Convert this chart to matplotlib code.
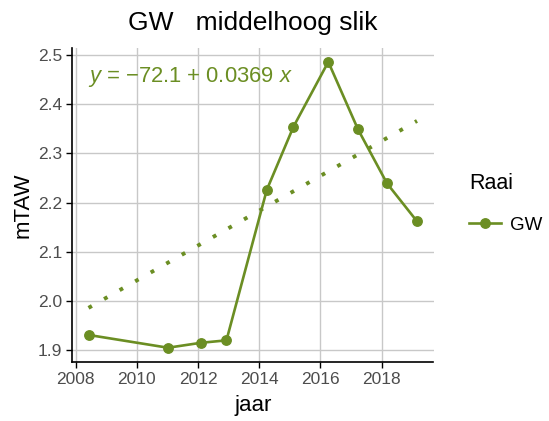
import matplotlib
matplotlib.use("Agg")
import matplotlib.pyplot as plt
from matplotlib.lines import Line2D

# ---- data ----
years = [2008.42, 2011.02, 2012.09, 2012.93, 2014.25, 2015.12, 2016.26, 2017.23, 2018.18, 2019.16]
mtaw = [1.931, 1.905, 1.915, 1.920, 2.226, 2.354, 2.486, 2.349, 2.239, 2.162]
trend_x = [2008.42, 2019.16]
trend_y = [1.986, 2.366]
x_ticks = [2008, 2010, 2012, 2014, 2016, 2018]
y_ticks = [1.9, 2.0, 2.1, 2.2, 2.3, 2.4, 2.5]
series_name = "GW"
title = "GW   middelhoog slik"
equation = r"$y$ = $-$72.1 + 0.0369 $x$"

color = "#6b8e23"
plt.rcParams['font.family'] = ['Liberation Sans', 'DejaVu Sans']
plt.rcParams['mathtext.fontset'] = 'custom'
plt.rcParams['mathtext.it'] = 'Liberation Sans:italic'
plt.rcParams['mathtext.rm'] = 'Liberation Sans'

W, H = 549, 421
fig = plt.figure(figsize=(W/100, H/100), dpi=100)
ax = fig.add_axes([72/W, (H-362)/H, (433.5-72)/W, (362-47.6)/H])

ax.plot(trend_x, trend_y, color=color, lw=2.8, linestyle=(0, (1, 3.6)), zorder=3)
ax.plot(years, mtaw, color=color, lw=1.9, marker='o', ms=6.8, zorder=4)

ax.set_xlim(2007.88, 2019.70)
ax.set_ylim(1.876, 2.515)
ax.set_xticks(x_ticks)
ax.set_yticks(y_ticks)
ax.set_yticklabels([f"{v:.1f}" for v in y_ticks])
ax.grid(True, color='#c8c8c8', lw=1.0)
ax.set_axisbelow(True)
for s in ['top', 'right']:
    ax.spines[s].set_visible(False)
for s in ['left', 'bottom']:
    ax.spines[s].set_color('black')
    ax.spines[s].set_linewidth(1.2)
ax.tick_params(axis='both', colors='black', labelcolor='#4d4d4d', labelsize=12.5,
               length=4, width=1.0, pad=3)

ax.set_xlabel("jaar", fontsize=16, labelpad=6)
ax.set_ylabel("mTAW", fontsize=16, labelpad=3)
ax.set_title(title, fontsize=19, pad=13)

ax.text(0.045, 0.905, equation, transform=ax.transAxes, color=color, fontsize=15.8,
        ha='left', va='center')

handle = Line2D([], [], color=color, lw=1.9, marker='o', ms=6.8)
leg = fig.legend([handle], [series_name], title="Raai", loc='upper left',
                 bbox_to_anchor=(452/W, 1-156/H), frameon=False, fontsize=13.5,
                 title_fontsize=15.5, handlelength=1.7, handletextpad=0.5,
                 labelspacing=1.2, alignment='left')

fig.savefig("out.png", dpi=100)
